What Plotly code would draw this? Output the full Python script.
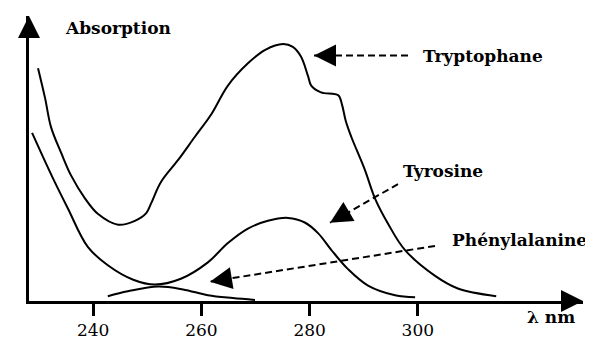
import plotly.graph_objects as go

# ---- data (arbitrary absorption units) ----
trp_wl = [229.8, 231.1, 232.2, 234.1, 235.9, 238.5, 240.9, 244.6, 247.7, 249.8, 250.7, 252.5,
          255.7, 258.8, 261.8, 264.9, 268.6, 271.8, 275.1, 276.9, 278.4, 279.7, 280.3, 282.1,
          285.3, 286.0, 286.7, 287.7, 290.2, 292.1, 294.5, 297.6, 303.2, 307.4, 314.5]
trp_abs = [2.41, 2.10, 1.80, 1.53, 1.30, 1.06, 0.90, 0.79, 0.83, 0.91, 1.01, 1.23,
           1.46, 1.70, 1.93, 2.23, 2.46, 2.60, 2.66, 2.63, 2.53, 2.33, 2.23, 2.16,
           2.13, 2.03, 1.86, 1.70, 1.36, 1.06, 0.80, 0.53, 0.26, 0.13, 0.05]

tyr_wl = [228.7, 230.4, 232.9, 235.3, 239.0, 242.7, 247.4, 251.4, 256.2, 261.2, 264.9, 268.6,
          272.3, 276.0, 279.2, 281.6, 284.0, 287.1, 290.8, 295.8, 299.5]
tyr_abs = [1.74, 1.53, 1.23, 0.96, 0.56, 0.37, 0.22, 0.17, 0.23, 0.40, 0.60, 0.75,
           0.83, 0.86, 0.81, 0.70, 0.53, 0.33, 0.16, 0.06, 0.04]

phe_wl = [242.7, 246.4, 252.0, 256.6, 261.2, 265.8, 269.9]
phe_abs = [0.05, 0.10, 0.15, 0.12, 0.06, 0.03, 0.01]

tick_vals = [240, 260, 280, 300]
tick_text = ["240", "260", "280", "300"]

# ---- layout geometry (pixels) ----
W, H = 593, 340
L, R, T, B = 21, 575, 8, 303


def px(x, y):
    return (x - L) / (R - L), (B - y) / (B - T)


FONT = "DejaVu Serif"

fig = go.Figure()
for wl, ab in [(trp_wl, trp_abs), (tyr_wl, tyr_abs), (phe_wl, phe_abs)]:
    fig.add_trace(go.Scatter(x=wl, y=ab, mode="lines",
                             line=dict(color="black", width=2, shape="spline", smoothing=1.0),
                             hoverinfo="skip", showlegend=False))

shapes = []
annotations = []

# dashed pointer lines: (tail, tip)
pointers = [((400, 49), (306, 49)), ((390, 182), (322, 222)), ((427, 246), (202, 283))]
for (tx, ty), (hx, hy) in pointers:
    x0, y0 = px(tx, ty)
    x1, y1 = px(hx, hy)
    shapes.append(dict(type="line", xref="paper", yref="paper", x0=x0, y0=y0, x1=x1, y1=y1,
                       line=dict(color="black", width=2, dash="7px,4px")))
    dx, dy = tx - hx, ty - hy
    n = (dx * dx + dy * dy) ** 0.5
    hxp, hyp = px(hx, hy)
    annotations.append(dict(xref="paper", yref="paper", x=hxp, y=hyp, text="",
                            showarrow=True, ax=dx / n * 18, ay=dy / n * 18,
                            arrowhead=2, arrowsize=2.2, arrowwidth=2, arrowcolor="black",
                            standoff=0))

# axis arrowheads
for (hx, hy), (ax, ay) in [((L, T), (0, 20)), ((R, B), (-20, 0))]:
    xp, yp = px(hx, hy)
    annotations.append(dict(xref="paper", yref="paper", x=xp, y=yp, text="",
                            showarrow=True, ax=ax, ay=ay, arrowhead=2, arrowsize=2.2,
                            arrowwidth=2, arrowcolor="black", standoff=0))

# texts
labels = [("Absorption", 55, 20), ("Tryptophane", 413, 49), ("Tyrosine", 393, 168),
          ("Phénylalanine", 442, 240), ("λ nm", 517, 320)]
for txt, x, y in labels:
    xp, yp = px(x, y)
    annotations.append(dict(xref="paper", yref="paper", x=xp, y=yp, text="<b>%s</b>" % txt,
                            showarrow=False, xanchor="left", yanchor="middle",
                            font=dict(family=FONT, size=17, color="black")))

fig.update_layout(
    width=W, height=H,
    margin=dict(l=L, r=W - R, t=T, b=H - B, pad=0),
    paper_bgcolor="white", plot_bgcolor="white",
    shapes=shapes, annotations=annotations,
    xaxis=dict(range=[228.13, 330.54], showgrid=False, zeroline=False,
               showline=True, linecolor="black", linewidth=2.5,
               tickmode="array", tickvals=tick_vals, ticktext=tick_text,
               ticks="outside", ticklen=12, tickwidth=3, tickcolor="black",
               tickfont=dict(family=FONT, size=17, color="black")),
    yaxis=dict(range=[0, 2.95], showgrid=False, zeroline=False,
               showline=True, linecolor="black", linewidth=2.5,
               showticklabels=False, ticks=""),
)

fig.write_html("out.html")
